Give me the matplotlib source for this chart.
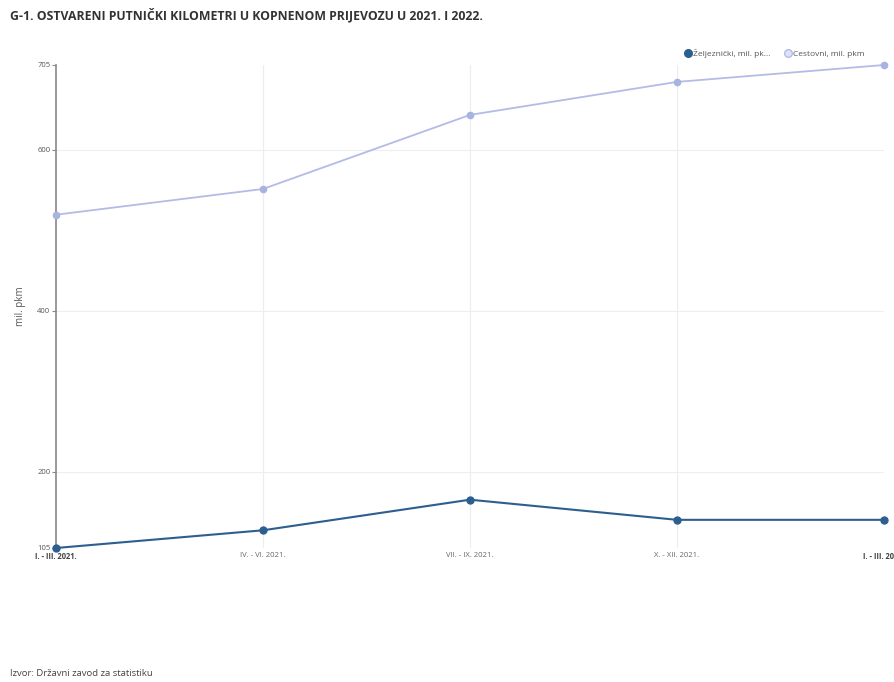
import matplotlib
matplotlib.use("Agg")
import matplotlib.pyplot as plt
from matplotlib.lines import Line2D

categories = ["I. - III. 2021.", "IV. - VI. 2021.", "VII. - IX. 2021.", "X. - XII. 2021.", "I. - III. 2022."]
zeljeznicki = [105, 127, 165, 140, 140]
cestovni = [519, 551, 643, 684, 705]
y_ticks = [105, 200, 400, 600, 705]
series_names = ["Željeznički, mil. pk...", "Cestovni, mil. pkm"]

W, H = 894, 682
fig = plt.figure(figsize=(W / 100, H / 100), dpi=100)
plt.rcParams['font.family'] = ['Open Sans', 'DejaVu Sans']

left, right, top, bottom = 56, 884, 65, 548
ax = fig.add_axes([left / W, 1 - bottom / H, (right - left) / W, (bottom - top) / H])

x = list(range(len(categories)))
dark = "#2c5f8f"
light = "#b3bce6"
ax.plot(x, cestovni, color=light, lw=1.3, marker="o", ms=4.5, mfc="#a9b3df", mec="#a9b3df", clip_on=False, zorder=3)
ax.plot(x, zeljeznicki, color=dark, lw=1.5, marker="o", ms=5, mfc=dark, mec=dark, clip_on=False, zorder=4)

ax.set_xlim(0, len(categories) - 1)
ax.set_ylim(min(y_ticks), max(y_ticks))
ax.set_yticks(y_ticks)
ax.set_yticklabels([str(v) for v in y_ticks], fontsize=5.5, color="#555555")
ax.set_xticks(x)
ax.set_xticklabels(categories, fontsize=5.5, color="#666666")
for i, lbl in enumerate(ax.get_xticklabels()):
    if i in (0, len(categories) - 1):
        lbl.set_fontweight("bold")
        lbl.set_color("#444444")
ax.tick_params(axis="x", length=0, pad=3)
ax.tick_params(axis="y", length=3, width=0.8, color="#888888", pad=1)

for sp in ["top", "right", "bottom"]:
    ax.spines[sp].set_visible(False)
ax.spines["left"].set_color("#888888")
ax.spines["left"].set_linewidth(1.2)

for v in [200, 400, 600]:
    ax.axhline(v, color="#eeeeee", lw=0.8, zorder=0)
for xv in x[1:-1]:
    ax.axvline(xv, color="#ececf4", lw=0.8, zorder=0)

ax.set_ylabel("mil. pkm", fontsize=7, color="#555555", labelpad=8)

handles = [
    Line2D([], [], ls="none", marker="o", ms=5.5, mfc=dark, mec=dark),
    Line2D([], [], ls="none", marker="o", ms=5.5, mfc="#dfe3f5", mec="#b3bce6"),
]
fig.legend(handles, series_names, loc="center right", bbox_to_anchor=(872 / W, 1 - 53 / H),
           ncol=2, frameon=False, fontsize=6, labelcolor="#555555",
           handletextpad=0.1, columnspacing=1.6, handlelength=1)

fig.text(10 / W, 1 - 15 / H, "G-1. OSTVARENI PUTNIČKI KILOMETRI U KOPNENOM PRIJEVOZU U 2021. I 2022.",
         fontsize=8.8, fontweight="bold", color="#333333", va="center", ha="left")
fig.text(10 / W, 1 - 673 / H, "Izvor: Državni zavod za statistiku",
         fontsize=6.8, color="#444444", va="center", ha="left")

fig.savefig("out.png", dpi=100)
